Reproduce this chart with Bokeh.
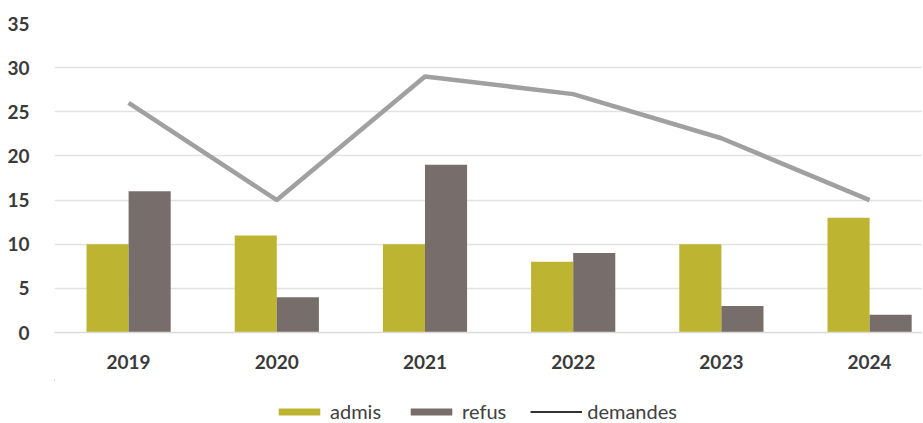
from bokeh.plotting import figure
from bokeh.layouts import column
from bokeh.models import (ColumnDataSource, Legend, LegendItem, Range1d, FixedTicker,
                          SingleIntervalTicker)
from bokeh.transform import dodge
from bokeh.embed import file_html
from bokeh.resources import INLINE

years = ["2019", "2020", "2021", "2022", "2023", "2024"]
admis = [10, 11, 10, 8, 10, 13]
refus = [16, 4, 19, 9, 3, 2]
demandes = [26, 15, 29, 27, 22, 15]

ADMIS_C = "#BDB531"
REFUS_C = "#776E6B"
LINE_C = "#A0A0A0"

# category slots: each year occupies one unit, centred at index + 0.5
xpos = [i + 0.5 for i in range(len(years))]
src = ColumnDataSource(dict(x=xpos, years=years, admis=admis, refus=refus, demandes=demandes))

FONT = "Lato"
p = figure(x_range=Range1d(0, 5.857), y_range=Range1d(0, 35),
           frame_width=868, frame_height=309,
           output_backend="svg", toolbar_location=None,
           min_border_left=54, min_border_right=0, min_border_top=23, min_border_bottom=48)
p.outline_line_color = None
p.background_fill_color = "white"

p.vbar(x=dodge("x", -0.142), top="admis", width=0.284, source=src,
       fill_color=ADMIS_C, line_color=None)
p.vbar(x=dodge("x", 0.142), top="refus", width=0.284, source=src,
       fill_color=REFUS_C, line_color=None)
p.line(x="x", y="demandes", source=src, line_color=LINE_C, line_width=4.5)

p.xgrid.grid_line_color = None
p.ygrid.grid_line_color = "#E2E2E2"
p.ygrid.grid_line_width = 1.5
p.yaxis.ticker = SingleIntervalTicker(interval=5)
p.yaxis.axis_line_color = None
p.yaxis.major_tick_line_color = None
p.yaxis.minor_tick_line_color = None
p.yaxis.major_label_text_font = FONT
p.yaxis.major_label_text_font_size = "19px"
p.yaxis.major_label_text_color = "#3A3A3A"
p.yaxis.major_label_text_font_style = "bold"
p.yaxis.major_label_standoff = 19

p.xaxis.ticker = FixedTicker(ticks=xpos)
p.xaxis.major_label_overrides = {x: y for x, y in zip(xpos, years)}
p.xaxis.axis_line_color = "#DADADA"
p.xaxis.axis_line_width = 1.5
p.xaxis.major_tick_line_color = None
p.xaxis.minor_tick_line_color = None
p.xaxis.major_label_text_font = FONT
p.xaxis.major_label_text_font_size = "19px"
p.xaxis.major_label_text_color = "#3A3A3A"
p.xaxis.major_label_text_font_style = "bold"
p.xaxis.major_label_standoff = 16

# separate strip holding the legend below the chart; its renderers reuse the
# same data but its ranges keep them out of view, so only the legend shows
lg = figure(x_range=Range1d(100, 101), y_range=Range1d(-200, -199),
            frame_width=922, frame_height=43,
            output_backend="svg", toolbar_location=None,
            min_border_left=0, min_border_right=0, min_border_top=0, min_border_bottom=0)
lg.axis.visible = False
lg.grid.visible = False
lg.outline_line_color = None
l1 = lg.vbar(x="x", top="admis", width=0.1, source=src, fill_color=ADMIS_C, line_color=None)
l2 = lg.vbar(x="x", top="refus", width=0.1, source=src, fill_color=REFUS_C, line_color=None)
l3 = lg.line(x="x", y="demandes", source=src, line_color="#333333", line_width=2)

legend = Legend(items=[LegendItem(label="admis", renderers=[l1]),
                       LegendItem(label="refus", renderers=[l2]),
                       LegendItem(label="demandes", renderers=[l3])],
                orientation="horizontal", location=(273, 0),
                glyph_width=52, glyph_height=9, spacing=24, label_standoff=5,
                label_text_font=FONT, label_text_font_size="20px", label_text_color="#404040",
                border_line_color=None, background_fill_alpha=0, margin=0, padding=0)
lg.add_layout(legend, "center")

layout = column(p, lg, spacing=0)
open("out.html", "w").write(file_html(layout, INLINE))
